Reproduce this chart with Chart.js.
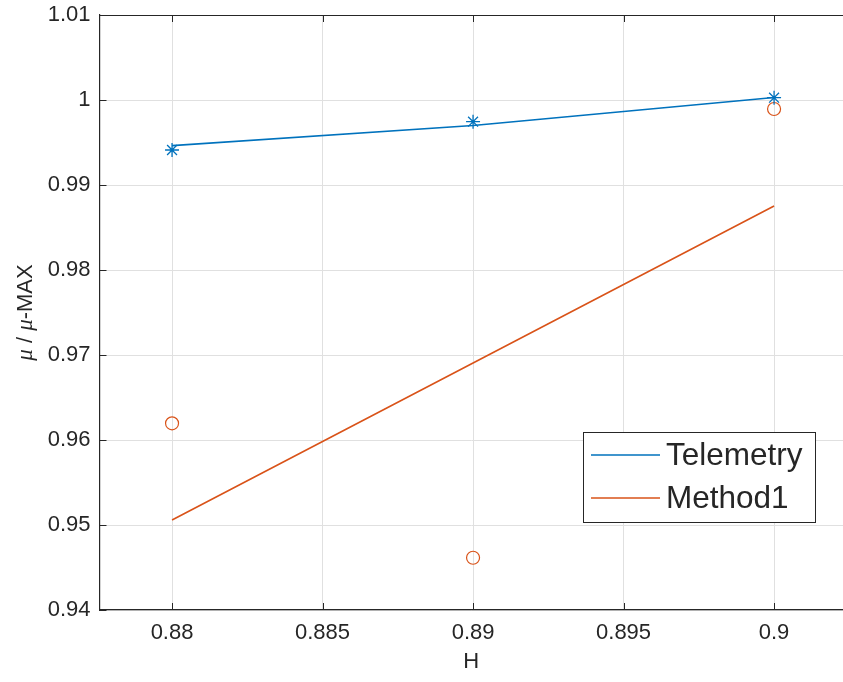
<!DOCTYPE html>
<html>
<head>
<meta charset="utf-8">
<script src="https://cdn.jsdelivr.net/npm/chart.js@4.4.1/dist/chart.umd.min.js"></script>
<style>
html,body{margin:0;padding:0;background:#fff;overflow:hidden;}
#wrap{position:relative;width:843px;height:682px;}
</style>
</head>
<body>
<div id="wrap"><canvas id="c" width="843" height="682"></canvas></div>
<script>
// ---- data ----
const hValues = [0.88, 0.89, 0.9];
const telemetryFit = [0.99463, 0.99700, 1.00030];
const telemetryPoints = [0.99412, 0.99745, 1.00027];
const method1Fit = [0.95059, 0.96906, 0.98753];
const method1Points = [0.96196, 0.94615, 0.99894];
const seriesNames = ['Telemetry', 'Method1'];
const xTicks = [0.88, 0.885, 0.89, 0.895, 0.9];
const xTickLabels = ['0.88', '0.885', '0.89', '0.895', '0.9'];
const yTicks = [0.94, 0.95, 0.96, 0.97, 0.98, 0.99, 1.0, 1.01];
const yTickLabels = ['0.94', '0.95', '0.96', '0.97', '0.98', '0.99', '1', '1.01'];
const xLabel = 'H';

const BLUE = '#0072BD';
const ORANGE = '#D95319';
const AXIS = '#262626';
const GRID = '#e0e0e0';
const FONT = '"Liberation Sans", Arial, sans-serif';

const pts = (ys) => hValues.map((x, i) => ({x: x, y: ys[i]}));

const zeroPad = s => { s.paddingTop = 0; s.paddingBottom = 0; s.paddingLeft = 0; s.paddingRight = 0; };

const framePlugin = {
  id: 'frame',
  afterDraw(chart) {
    const ctx = chart.ctx;
    const a = chart.chartArea;
    const xs = chart.scales.x, ys = chart.scales.y;
    ctx.save();
    ctx.strokeStyle = AXIS;
    ctx.lineWidth = 1.2;
    // top frame line
    ctx.beginPath();
    ctx.moveTo(a.left, a.top + 0.5);
    ctx.lineTo(a.right, a.top + 0.5);
    ctx.stroke();
    // inward ticks
    ctx.lineWidth = 1;
    ctx.beginPath();
    xTicks.forEach(v => {
      const px = Math.round(xs.getPixelForValue(v)) + 0.5;
      ctx.moveTo(px, a.bottom); ctx.lineTo(px, a.bottom - 7);
      ctx.moveTo(px, a.top); ctx.lineTo(px, a.top + 7);
    });
    yTicks.forEach(v => {
      const py = Math.round(ys.getPixelForValue(v)) + 0.5;
      ctx.moveTo(a.left, py); ctx.lineTo(a.left + 7, py);
    });
    ctx.stroke();

    // y-axis title with italic mu
    const segs = [
      ['\u03BC', 'italic 23px "Liberation Serif", serif'],
      [' / ', '22px ' + FONT],
      ['\u03BC', 'italic 23px "Liberation Serif", serif'],
      ['-MAX', '22px ' + FONT]
    ];
    let total = 0;
    segs.forEach(s => { ctx.font = s[1]; total += ctx.measureText(s[0]).width; });
    ctx.translate(26, (a.top + a.bottom) / 2);
    ctx.rotate(-Math.PI / 2);
    ctx.fillStyle = AXIS;
    ctx.textBaseline = 'middle';
    ctx.textAlign = 'left';
    let cx = -total / 2;
    segs.forEach(s => { ctx.font = s[1]; ctx.fillText(s[0], cx, 0); cx += ctx.measureText(s[0]).width; });
    ctx.restore();

    // legend box
    ctx.save();
    const lx0 = a.right - 260, ly0 = a.bottom - 178, lw = 232, lh = 90;
    ctx.fillStyle = '#fff';
    ctx.fillRect(lx0, ly0, lw, lh);
    ctx.strokeStyle = AXIS;
    ctx.lineWidth = 1;
    ctx.strokeRect(lx0 + 0.5, ly0 + 0.5, lw, lh);
    const cols = [BLUE, ORANGE];
    const rows = [ly0 + 23, ly0 + 66];
    seriesNames.forEach((name, i) => {
      ctx.strokeStyle = cols[i];
      ctx.lineWidth = 1.3;
      ctx.beginPath();
      ctx.moveTo(lx0 + 8, rows[i]); ctx.lineTo(lx0 + 77, rows[i]);
      ctx.stroke();
      ctx.fillStyle = AXIS;
      ctx.font = '31.5px ' + FONT;
      ctx.textBaseline = 'middle';
      ctx.textAlign = 'left';
      ctx.fillText(name, lx0 + 83, rows[i] + 1);
    });
    ctx.restore();
  }
};

new Chart(document.getElementById('c'), {
  type: 'scatter',
  data: {
    datasets: [
      {label: seriesNames[0], data: pts(telemetryFit), showLine: true, borderColor: BLUE, borderWidth: 1.6, pointRadius: 0, fill: false},
      {label: seriesNames[0] + ' data', data: pts(telemetryPoints), showLine: false, pointStyle: 'star', pointRadius: 7, borderColor: BLUE, backgroundColor: BLUE, pointBorderWidth: 1.3},
      {label: seriesNames[1], data: pts(method1Fit), showLine: true, borderColor: ORANGE, borderWidth: 1.6, pointRadius: 0, fill: false},
      {label: seriesNames[1] + ' data', data: pts(method1Points), showLine: false, pointStyle: 'circle', pointRadius: 6.5, borderColor: ORANGE, backgroundColor: 'rgba(0,0,0,0)', pointBorderWidth: 1.2}
    ]
  },
  options: {
    responsive: false,
    animation: false,
    devicePixelRatio: 1,
    layout: {autoPadding: false, padding: {top: 15, right: 0, left: 0, bottom: 0}},
    plugins: {legend: {display: false}, tooltip: {enabled: false}},
    scales: {
      x: {
        type: 'linear',
        min: 0.87759, max: 0.90229,
        afterBuildTicks: s => { s.ticks = xTicks.map(v => ({value: v})); },
        afterFit: s => { s.height = 72; zeroPad(s); },
        ticks: {
          includeBounds: false,
          color: AXIS,
          font: {family: FONT, size: 22},
          padding: 10,
          maxRotation: 0,
          callback: (v, i) => xTickLabels[i]
        },
        grid: {color: GRID, lineWidth: 1, drawTicks: false},
        border: {color: AXIS, width: 1.2},
        title: {display: true, text: xLabel, color: AXIS, font: {family: FONT, size: 22}, padding: {top: 0, bottom: 7}}
      },
      y: {
        type: 'linear',
        min: 0.94, max: 1.01,
        afterBuildTicks: s => { s.ticks = yTicks.map(v => ({value: v})); },
        afterFit: s => { s.width = 99.5; zeroPad(s); },
        ticks: {
          includeBounds: false,
          color: AXIS,
          font: {family: FONT, size: 22},
          padding: 9,
          callback: (v, i) => yTickLabels[i]
        },
        grid: {color: GRID, lineWidth: 1, drawTicks: false},
        border: {color: AXIS, width: 1.2}
      }
    }
  },
  plugins: [framePlugin]
});
</script>
</body>
</html>
